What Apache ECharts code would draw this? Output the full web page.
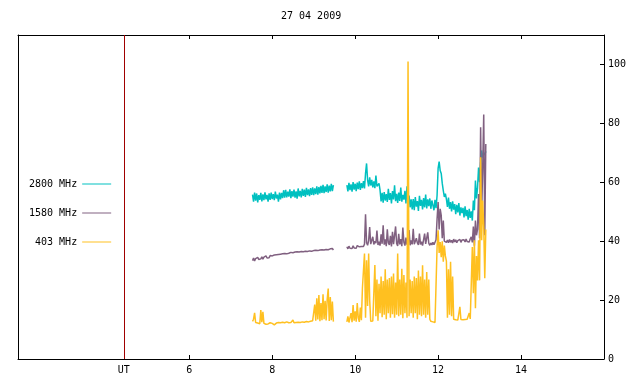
<!DOCTYPE html>
<html>
<head>
<meta charset="utf-8">
<script src="https://cdn.jsdelivr.net/npm/echarts@6/dist/echarts.min.js"></script>
<style>html,body{margin:0;padding:0;background:#fff;}#c{width:640px;height:384px;}</style>
</head>
<body>
<div id="c"></div>
<script>
const titleText = '27 04 2009';
const seriesNames = ['2800 MHz', '1580 MHz', '403 MHz'];
const xTicks = [6, 8, 10, 12, 14];
const utTime = 4.42;
const yTicks = [0, 20, 40, 60, 80, 100];
const xRange = [1.87, 16];
const yRange = [0, 110];

// sampling grid of the two observation segments (UT hours)
const segAStart = 7.525, segBStart = 9.80, stepH = 0.025;
const gapTime = 9.64;

// 2800 MHz
const f2800A = [
  55.8,53.4,56.5,53.8,56.2,53.2,55.6,54.0,56.4,53.5,55.9,53.9,56.6,54.2,55.7,53.4,56.2,54.0,56.5,54.3,
  56.0,53.9,56.8,54.5,55.8,53.4,56.5,54.2,56.4,54.6,57.3,54.8,57.4,54.9,56.8,55.1,57.6,54.6,57.0,55.1,
  57.5,54.8,56.9,54.4,57.9,55.2,57.1,54.9,57.8,55.4,57.5,55.0,58.1,55.6,57.6,55.3,58.0,55.7,58.3,55.6,
  57.9,56.0,58.6,55.8,58.4,56.2,58.8,56.4,59.1,56.3,58.6,56.7,59.3,56.5,58.9,56.9,59.5,57.0,59.0
];
const f2800B = [
  59.0,56.9,59.8,57.3,59.3,56.8,60.1,57.5,59.5,57.0,59.9,57.7,60.3,57.4,59.7,58.0,
  60.4,57.9,63.0,66.4,60.7,58.6,61.7,58.9,60.8,58.3,60.3,58.0,62.3,58.6,59.0,59.6,
  57.3,53.5,56.4,53.1,56.7,53.8,56.0,53.3,57.8,54.0,56.3,52.8,57.0,54.2,59.0,53.6,
  56.1,53.0,56.5,53.7,58.2,53.4,55.7,54.1,57.1,52.8,58.6,53.9,55.5,51.5,54.2,50.8,
  54.3,50.5,55.0,51.7,53.6,50.3,55.4,52.0,54.0,50.8,54.6,51.5,55.8,51.1,54.2,51.9,
  54.5,51.0,53.8,52.2,50.5,54.0,51.2,55.5,64.7,67.0,64.0,63.0,59.6,57.2,55.0,56.1,
  54.3,51.6,54.8,51.0,53.3,50.1,53.5,50.7,52.6,49.2,52.3,49.8,52.9,48.7,51.5,49.5,
  51.3,48.1,51.8,48.5,50.6,47.3,51.0,47.9,50.1,47.0,53.8,50.5,60.6,54.5,58.0,65.0,
  60.0,66.5,70.8,68.4,70.0,69.2,70.5
];

// 1580 MHz
const f1580A = [
  33.4,34.3,33.3,34.1,33.6,34.5,33.8,34.4,34.0,34.7,33.9,34.6,34.2,35.0,34.3,34.9,34.4,35.1,34.5,35.0,
  34.7,35.3,34.8,35.4,34.9,35.5,35.0,35.6,35.1,35.7,35.2,35.8,35.3,35.7,35.2,35.9,35.4,36.2,35.6,36.1,
  35.7,36.3,35.8,36.4,35.9,36.3,35.8,36.5,36.0,36.4,35.9,36.6,36.1,36.5,36.0,36.7,36.2,36.6,36.1,36.8,
  36.3,36.9,36.4,36.8,36.3,37.0,36.5,37.1,36.6,37.0,36.5,37.2,36.7,37.1,36.6,37.4,36.8,37.5,37.0
];
const f1580B = [
  38.1,37.4,38.3,37.6,38.2,37.5,38.4,37.7,38.1,37.6,38.5,37.9,38.1,38.1,38.2,38.6,
  38.2,39.0,49.1,39.5,38.6,40.2,44.8,39.0,38.4,41.5,38.9,40.0,39.3,43.6,38.7,39.8,
  38.5,42.3,39.1,45.4,38.8,40.6,38.3,44.0,39.4,38.7,41.8,38.2,43.2,39.0,38.6,45.0,
  39.2,38.4,42.5,38.9,40.7,38.3,44.6,39.6,38.5,41.2,38.8,39.9,43.8,38.6,40.3,38.9,
  44.2,39.0,38.6,41.0,39.4,38.7,42.6,38.9,39.8,38.5,40.5,42.6,39.1,38.8,43.0,39.3,
  38.6,39.4,38.7,39.6,38.8,39.2,40.5,47.5,53.3,44.0,51.0,48.8,41.0,47.0,40.0,39.6,
  39.6,40.4,39.5,40.6,39.6,40.3,39.4,40.7,39.7,40.5,39.5,40.2,39.8,40.6,39.6,40.4,
  39.8,40.5,39.7,40.7,39.9,40.4,39.7,40.8,41.5,39.6,45.0,38.5,47.0,42.0,44.0,56.0,
  41.0,78.7,50.0,65.0,83.0,42.0,73.0
];

// 403 MHz
const f403A = [
  12.8,13.5,15.7,12.4,13.0,12.2,12.6,12.0,16.6,12.5,16.0,12.1,12.4,11.8,12.2,11.9,12.0,12.3,11.7,12.1,
  12.0,11.6,11.9,12.2,12.0,12.4,12.1,12.3,12.0,12.5,12.2,12.3,12.1,12.6,12.2,12.3,12.0,12.4,12.2,13.2,
  12.3,12.1,12.4,12.2,12.5,12.3,12.4,12.2,12.6,12.3,12.5,12.4,12.7,12.3,12.6,12.4,12.8,12.5,13.0,12.6,
  18.5,13.0,20.6,13.4,21.7,12.8,19.0,13.2,22.0,13.5,19.8,13.1,20.2,23.9,12.9,21.0,13.2,19.5,12.7
];
const f403B = [
  12.6,14.5,12.4,12.8,15.6,12.5,18.3,13.0,16.2,12.7,19.0,14.0,12.6,17.5,13.2,24.0,
  30.0,35.8,14.0,33.5,18.0,35.8,20.0,12.8,12.5,12.9,12.6,31.9,14.5,27.0,13.0,25.5,
  15.5,28.0,14.2,26.5,15.0,30.5,13.5,27.0,15.5,27.5,14.0,28.0,15.2,29.0,14.0,26.0,
  15.0,35.8,14.5,27.0,15.0,30.6,13.8,28.5,15.5,26.0,14.0,101.0,14.5,27.0,15.5,26.5,
  14.0,28.0,15.5,27.5,13.5,30.0,15.0,28.0,14.5,31.8,15.0,27.0,14.0,29.5,15.0,27.0,
  13.5,12.8,13.2,12.6,13.0,12.4,12.9,38.0,43.7,36.0,39.7,34.6,40.0,33.0,38.5,35.0,
  33.2,14.0,30.5,15.0,33.0,14.5,28.0,13.5,13.8,13.3,13.6,13.2,13.5,17.7,13.4,13.6,
  13.3,13.7,13.4,13.9,13.5,13.8,15.6,13.6,14.0,38.0,22.3,40.3,17.2,35.0,26.7,40.3,
  26.7,68.5,40.3,53.8,45.0,27.4,44.0
];

const colors = ['#00C0C0', '#806080', '#FFC020'];
const FONT = 'DejaVu Sans Mono';

function build(a, b) {
  const out = a.map((v, i) => [segAStart + i * stepH, v]);
  out.push([gapTime, '-']);
  b.forEach((v, i) => out.push([segBStart + i * stepH, v]));
  return out;
}

const chart = echarts.init(document.getElementById('c'), null, {renderer: 'canvas'});
const labelValues = [utTime].concat(xTicks);
const seriesData = [build(f2800A, f2800B), build(f1580A, f1580B), build(f403A, f403B)];

chart.setOption({
  animation: false,
  backgroundColor: '#ffffff',
  title: {
    text: titleText, left: 281, top: 11, padding: 0,
    textStyle: {fontFamily: FONT, fontSize: 10, fontWeight: 'normal', color: '#000'}
  },
  grid: {left: 18, right: 36, top: 35, bottom: 25, containLabel: false},
  legend: {
    orient: 'vertical', left: 29, top: 178, padding: 0, align: 'right',
    icon: 'rect', itemWidth: 29, itemHeight: 1, itemGap: 17, selectedMode: false,
    textStyle: {fontFamily: FONT, fontSize: 10, color: '#000', lineHeight: 12},
    data: seriesNames
  },
  xAxis: [{
    type: 'value', position: 'bottom', min: xRange[0], max: xRange[1],
    axisLine: {show: true, onZero: false, lineStyle: {color: '#000', width: 1}},
    axisTick: {show: true, inside: true, length: 4, customValues: xTicks, lineStyle: {color: '#000'}},
    axisLabel: {show: true, customValues: labelValues, margin: 6, color: '#000', fontFamily: FONT, fontSize: 10,
      formatter: v => Math.abs(v - utTime) < 0.01 ? 'UT' : String(v)},
    splitLine: {show: false}
  }, {
    type: 'value', position: 'top', min: xRange[0], max: xRange[1],
    axisLine: {show: true, onZero: false, lineStyle: {color: '#000', width: 1}},
    axisTick: {show: true, inside: true, length: 4, customValues: xTicks, lineStyle: {color: '#000'}},
    axisLabel: {show: false},
    splitLine: {show: false}
  }],
  yAxis: [{
    type: 'value', position: 'right', min: yRange[0], max: yRange[1],
    axisLine: {show: true, onZero: false, lineStyle: {color: '#000', width: 1}},
    axisTick: {show: true, inside: true, length: 4, customValues: yTicks, lineStyle: {color: '#000'}},
    axisLabel: {show: true, customValues: yTicks, margin: 4, color: '#000', fontFamily: FONT, fontSize: 10},
    splitLine: {show: false}
  }, {
    type: 'value', position: 'left', min: yRange[0], max: yRange[1],
    axisLine: {show: true, onZero: false, lineStyle: {color: '#000', width: 1}},
    axisTick: {show: false}, axisLabel: {show: false}, splitLine: {show: false}
  }],
  series: seriesNames.map((name, k) => ({
    name: name, type: 'line', xAxisIndex: 0, yAxisIndex: 0,
    data: seriesData[k], showSymbol: false, symbol: 'none', sampling: null,
    color: colors[k], lineStyle: {color: colors[k], width: 1.5}, z: 2 + k,
    connectNulls: false,
    markLine: k === 0 ? {
      silent: true, symbol: ['none', 'none'], label: {show: false},
      lineStyle: {color: '#A00000', width: 1, type: 'solid'},
      data: [{xAxis: utTime}]
    } : undefined
  }))
});
</script>
</body>
</html>
